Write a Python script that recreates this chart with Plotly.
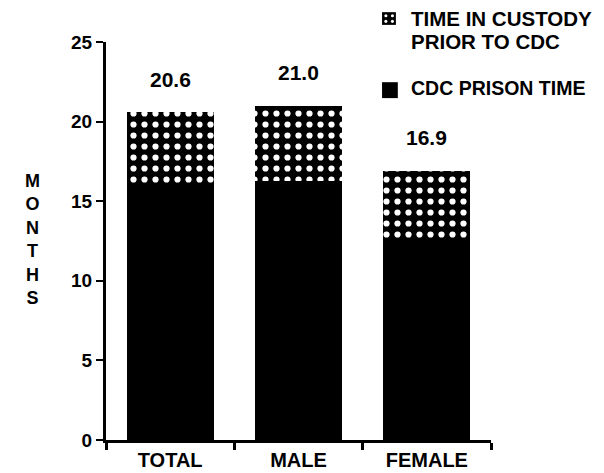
import plotly.graph_objects as go

categories = ["TOTAL", "MALE", "FEMALE"]
cdc_prison_time = [16.0, 16.3, 12.6]
totals = [20.6, 21.0, 16.9]
custody_prior = [round(t - c, 1) for t, c in zip(totals, cdc_prison_time)]
total_labels = ["20.6", "21.0", "16.9"]
y_ticks = [0, 5, 10, 15, 20, 25]
legend_custody_lines = ["TIME IN CUSTODY", "PRIOR TO CDC"]
legend_cdc = "CDC PRISON TIME"

FONT = "Liberation Sans, Arial, sans-serif"
BOLD = dict(family=FONT, color="black", weight="bold")

fig = go.Figure()
fig.add_trace(go.Bar(
    x=categories, y=cdc_prison_time, name=legend_cdc,
    marker=dict(color="black", line=dict(width=0)),
    width=0.68, showlegend=False,
))
fig.add_trace(go.Bar(
    x=categories, y=custody_prior, name=" ".join(legend_custody_lines),
    marker=dict(color="black", line=dict(width=0),
                pattern=dict(shape=".", fgcolor="white", bgcolor="black",
                             fgopacity=1, size=11, solidity=0.25)),
    width=0.68, showlegend=False,
))

for cat, tot, lab in zip(categories, totals, total_labels):
    fig.add_annotation(x=cat, y=tot, text=lab, showarrow=False,
                       yanchor="middle", yshift=33,
                       font=dict(size=21, **BOLD))

# y axis title, stacked letters
fig.add_annotation(xref="paper", yref="paper", x=-0.216, y=0.503,
                   text="M<br>O<br>N<br>T<br>H<br>S", showarrow=False,
                   font=dict(size=18, **BOLD), align="center")

# manual legend
shapes = [
    dict(type="rect", xref="paper", yref="paper", x0=0.717, x1=0.753,
         y0=1.043, y1=1.075, fillcolor="black", line=dict(width=0)),
    dict(type="rect", xref="paper", yref="paper", x0=0.717, x1=0.758,
         y0=0.859, y1=0.899, fillcolor="black", line=dict(width=0)),
]
for cx, cy in [(0.727, 1.066), (0.744, 1.066), (0.727, 1.052), (0.744, 1.052)]:
    shapes.append(dict(type="circle", xref="paper", yref="paper",
                       x0=cx - 0.004, x1=cx + 0.004, y0=cy - 0.004, y1=cy + 0.004,
                       fillcolor="white", line=dict(width=0)))
for txt, yy in zip(legend_custody_lines, [1.059, 1.0025]):
    fig.add_annotation(xref="paper", yref="paper", x=0.787, y=yy,
                       xanchor="left", yanchor="middle", align="left",
                       text=txt, showarrow=False,
                       font=dict(size=20.5, **BOLD))
fig.add_annotation(xref="paper", yref="paper", x=0.787, y=0.884,
                   xanchor="left", yanchor="middle", align="left",
                   text=legend_cdc, showarrow=False,
                   font=dict(size=19.5, **BOLD))

fig.update_layout(
    barmode="stack",
    width=596, height=465,
    margin=dict(l=98, r=113, t=34, b=33, autoexpand=False),
    plot_bgcolor="white", paper_bgcolor="white",
    font=dict(size=18, **BOLD),
    showlegend=False,
    shapes=shapes,
)
fig.update_xaxes(showline=True, linecolor="black", linewidth=3, automargin=False,
                 tickson="boundaries", ticks="outside", ticklen=7, tickwidth=3,
                 tickcolor="black", range=[-0.5, 2.5], showgrid=False,
                 tickfont=dict(size=20, **BOLD))
fig.update_yaxes(showline=True, linecolor="black", linewidth=3, automargin=False,
                 range=[0, 25], tickvals=y_ticks, ticks="outside", ticklen=7,
                 tickwidth=2, tickcolor="black", showgrid=False, zeroline=False,
                 tickfont=dict(size=19, **BOLD))

fig.write_html("out.html")
